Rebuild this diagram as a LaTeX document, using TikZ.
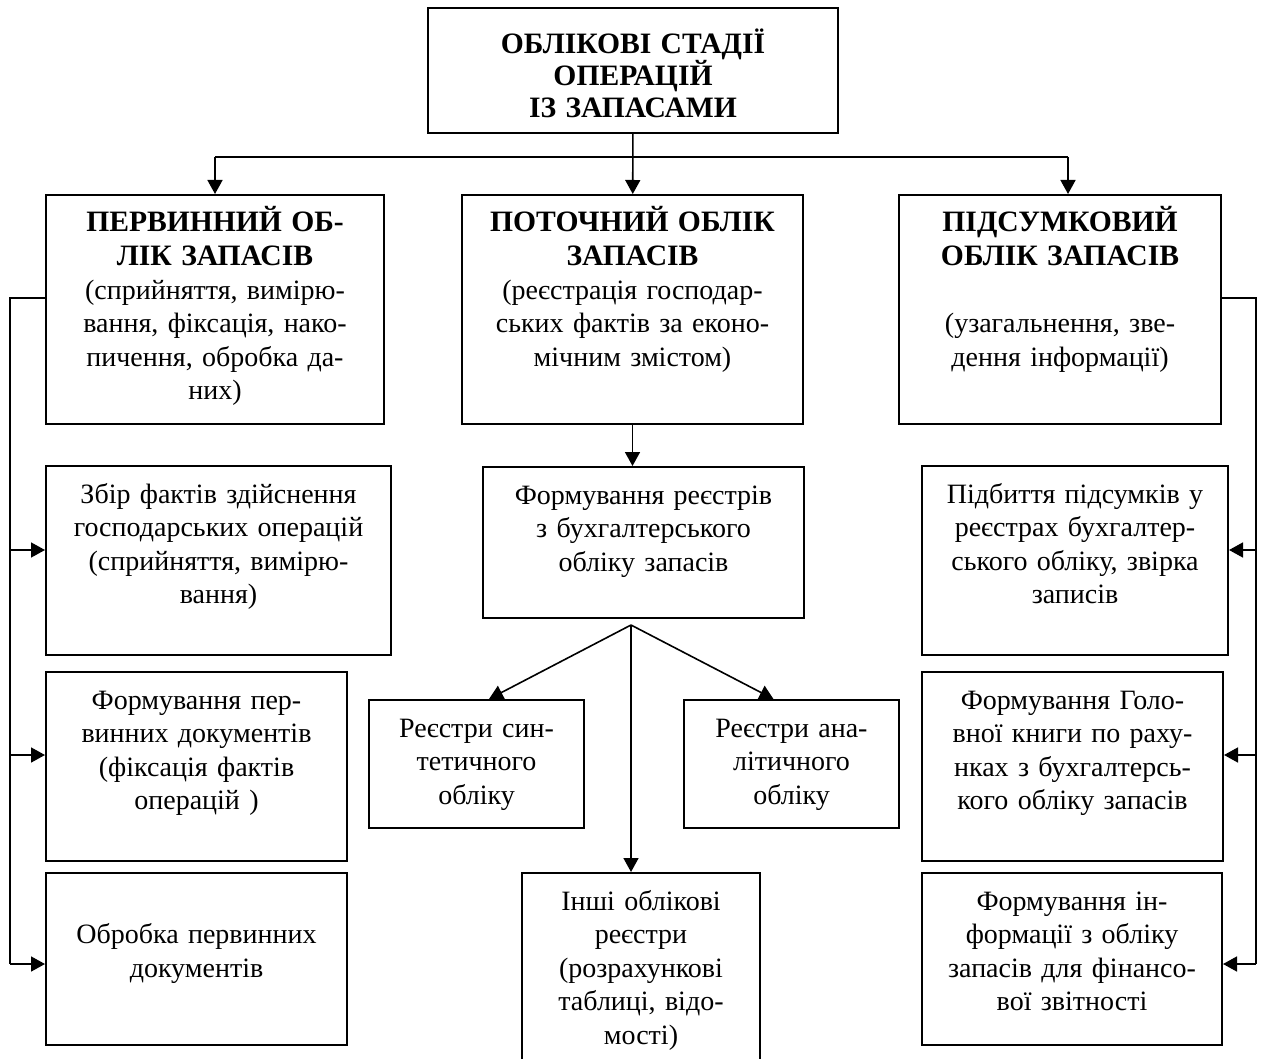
\documentclass[tikz,border=0pt]{standalone}
\usepackage{fontspec}
\setmainfont{Liberation Serif}
\usetikzlibrary{arrows.meta,positioning}
\newcommand{\headtext}[1]{{\fontsize{14.8}{16.8}\selectfont\bfseries #1}}
\tikzset{
    stage/.style 2 args={
        draw,line width=1pt,inner sep=0pt,align=center,
        text width=#1,text height=18.5pt,text depth=#2,
        font=\fontsize{14}{16.8}\selectfont
    },
    link/.style={line width=0.8pt,draw=black},
    arrow/.style={
        -{Triangle[length=7pt,width=7.5pt]},line width=0.8pt,draw=black
    }
}

\begin{document}
\begin{tikzpicture}[x=0.5pt,y=-0.5pt]
\useasboundingbox (0,0) rectangle (1261,1058);

\node[stage={205pt}{39.5pt},text height=23pt] (top) at (633,70.5)
{\headtext{ОБЛІКОВІ СТАДІЇ}\\[-1pt]\headtext{ОПЕРАЦІЙ}\\[-1pt]\headtext{ІЗ ЗАПАСАМИ}};

\node[stage={169pt}{96pt}] (l1) at (215,309.5)
{\headtext{ПЕРВИННИЙ ОБ-}\\\headtext{ЛІК ЗАПАСІВ}\\
(сприйняття, вимірю-\\вання, фіксація, нако-\\пичення, обробка да-\\них)};

\node[stage={170.5pt}{96pt}] (m1) at (632.5,309.5)
{\headtext{ПОТОЧНИЙ ОБЛІК}\\\headtext{ЗАПАСІВ}\\
(реєстрація господар-\\ських фактів за еконо-\\мічним змістом)};

\node[stage={161pt}{96pt}] (r1) at (1060,309.5)
{\headtext{ПІДСУМКОВИЙ}\\\headtext{ОБЛІК ЗАПАСІВ}\\[16.8pt]
(узагальнення, зве-\\дення інформації)};

\node[stage={172.5pt}{76pt}] (l2) at (218.5,560.5)
{Збір фактів здійснення\\господарських операцій\\(сприйняття, вимірю-\\вання)};

\node[stage={150.5pt}{76pt}] (l3) at (196.5,766.5)
{Формування пер-\\винних документів\\(фіксація фактів\\операцій )};

\node[stage={150.5pt}{67.5pt}] (l4) at (196.5,959)
{\mbox{}\\Обробка первинних\\документів};

\node[stage={160.5pt}{57pt}] (m2) at (643.5,542.5)
{Формування реєстрів\\з бухгалтерського\\обліку запасів};

\node[stage={107.5pt}{45.5pt}] (m3) at (476.5,764)
{Реєстри син-\\тетичного\\обліку};

\node[stage={107.5pt}{45.5pt}] (m4) at (791.5,764)
{Реєстри ана-\\літичного\\обліку};

\node[stage={119pt}{80pt}] (m5) at (641,971.5)
{Інші облікові\\реєстри\\(розрахункові\\таблиці, відо-\\мості)};

\node[stage={153pt}{76pt}] (r2) at (1075,560.5)
{Підбиття підсумків у\\реєстрах бухгалтер-\\ського обліку, звірка\\записів};

\node[stage={150.5pt}{76pt}] (r3) at (1072.5,766.5)
{Формування Голо-\\вної книги по раху-\\нках з бухгалтерсь-\\кого обліку запасів};

\node[stage={150pt}{67.5pt}] (r4) at (1072,959)
{Формування ін-\\формації з обліку\\запасів для фінансо-\\вої звітності};

\coordinate (busl) at (215,157);
\coordinate (busr) at (1068,157);
\draw[arrow](top)--(m1);
\draw[link](busl)--(busr);
\draw[arrow](busl)--(busl|-l1.north);
\draw[arrow](busr)--(busr|-r1.north);

\coordinate (lb2) at (10,550);
\coordinate (lb3) at (10,755);
\coordinate (lb4) at (10,964);
\draw[link]([yshift=5.75pt]l1.west)-|(lb4);
\foreach \i in {2,3,4}
    \draw[arrow](lb\i)--(lb\i-|l\i.west);

\coordinate (rb2) at (1256,550);
\coordinate (rb3) at (1256,755);
\coordinate (rb4) at (1256,964);
\draw[link]([yshift=5.75pt]r1.east)-|(rb4);
\foreach \i in {2,3,4}
    \draw[arrow](rb\i)--(rb\i-|r\i.east);

\draw[arrow](m1.south)--(m1.south|-m2.north);
\coordinate (fork) at (631,625);
\draw[arrow](fork)--([xshift=6.25pt]m3.north);
\draw[arrow](fork)--(fork|-m5.north);
\draw[arrow](fork)--([xshift=-9pt]m4.north);

\end{tikzpicture}
\end{document}
